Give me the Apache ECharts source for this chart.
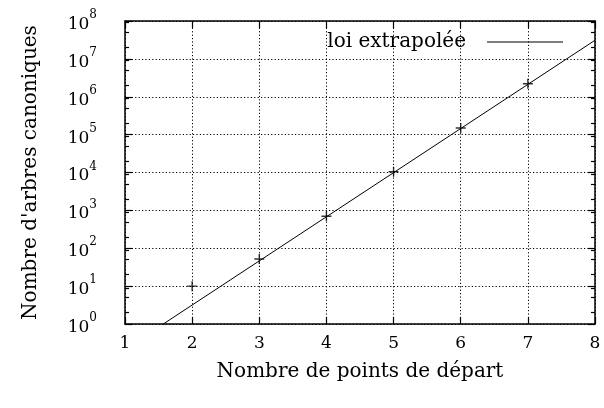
<!DOCTYPE html>
<html>
<head>
<meta charset="utf-8">
<script src="https://cdn.jsdelivr.net/npm/echarts@6/dist/echarts.min.js"></script>
<style>
  html, body { margin: 0; padding: 0; background: #fff; }
  #chart { width: 604px; height: 408px; }
</style>
</head>
<body>
<div id="chart"></div>
<script>
// Nombre de points de départ mesurés
const departs = [2, 3, 4, 5, 6, 7];
// Nombre d'arbres canoniques observés
const arbres = [10, 52, 700, 10500, 150000, 2200000];
// Loi extrapolée (droite en échelle log) : extrémités visibles
const loiX = [1.57, 8];
const loiY = [1, 31000000];
// Graduations
const xTicks = [1, 2, 3, 4, 5, 6, 7, 8];
const yMajor = [1, 10, 100, 1000, 10000, 100000, 1000000, 10000000, 100000000];
const yMinorFactors = [2, 5, 9];

const yMinor = [];
yMajor.slice(0, -1).forEach(d => yMinorFactors.forEach(f => yMinor.push(d * f)));

const FONT = 'DejaVu Serif';
const black = '#000';

const plus = 'path://M4.3,0h1.4v4.3h4.3v1.4h-4.3v4.3h-1.4v-4.3h-4.3v-1.4h4.3z';

const baseY = {
  type: 'log', logBase: 10, min: yMajor[0], max: yMajor[yMajor.length - 1],
  splitLine: { show: false }, axisLabel: { show: false },
  axisLine: { show: false }
};

const chart = echarts.init(document.getElementById('chart'), null, { renderer: 'canvas' });
chart.setOption({
  animation: false,
  backgroundColor: '#fff',
  textStyle: { fontFamily: FONT, color: black },
  grid: { left: 125, right: 9, top: 21, bottom: 84, containLabel: false },
  legend: {
    data: ['loi extrapolée'],
    right: 41, top: 32, padding: 0,
    align: 'right',
    icon: 'rect', itemWidth: 76, itemHeight: 1, itemGap: 0,
    textStyle: { fontFamily: FONT, fontSize: 20, color: black, padding: [0, 16, 0, 0] },
    selectedMode: false
  },
  xAxis: [
    {
      type: 'value', min: xTicks[0], max: xTicks[xTicks.length - 1], interval: 1,
      name: 'Nombre de points de départ', nameLocation: 'middle', nameGap: 38,
      nameTextStyle: { fontFamily: FONT, fontSize: 20, color: black },
      axisLine: { onZero: false, lineStyle: { color: black, width: 1.5 } },
      axisTick: { inside: true, length: 7, lineStyle: { color: black, width: 1.2 } },
      axisLabel: { margin: 11, fontFamily: FONT, fontSize: 17, color: black },
      splitLine: { show: true, lineStyle: { color: black, type: [1.2, 2.2], width: 1 } }
    },
    {
      type: 'value', position: 'top', min: xTicks[0], max: xTicks[xTicks.length - 1], interval: 1,
      axisLine: { onZero: false, lineStyle: { color: black, width: 1.5 } },
      axisTick: { inside: true, length: 7, lineStyle: { color: black, width: 1.2 } },
      axisLabel: { show: false }, splitLine: { show: false }
    }
  ],
  yAxis: [
    {
      type: 'log', logBase: 10, min: yMajor[0], max: yMajor[yMajor.length - 1],
      name: "Nombre d'arbres canoniques", nameLocation: 'middle', nameGap: 84, nameRotate: 90,
      nameTextStyle: { fontFamily: FONT, fontSize: 20, color: black },
      axisLine: { onZero: false, lineStyle: { color: black, width: 1.5 } },
      axisTick: { inside: true, length: 7, lineStyle: { color: black, width: 1.2 } },
      axisLabel: {
        margin: 28,
        formatter: v => '{b|10}{s|' + Math.round(Math.log10(v)) + '}',
        rich: {
          b: { fontFamily: FONT, fontSize: 17, color: black, lineHeight: 24, verticalAlign: 'bottom' },
          s: { fontFamily: FONT, fontSize: 12, color: black, lineHeight: 14, verticalAlign: 'top' }
        }
      },
      splitLine: { show: true, lineStyle: { color: black, type: [1.2, 2.2], width: 1 } }
    },
    Object.assign({}, baseY, {
      position: 'left',
      axisTick: { inside: true, length: 4, customValues: yMinor, lineStyle: { color: black, width: 1.2 } }
    }),
    Object.assign({}, baseY, {
      position: 'right',
      axisLine: { show: true, onZero: false, lineStyle: { color: black, width: 1.5 } },
      axisTick: { inside: true, length: 7, customValues: yMajor, lineStyle: { color: black, width: 1.2 } }
    }),
    Object.assign({}, baseY, {
      position: 'right',
      axisTick: { inside: true, length: 4, customValues: yMinor, lineStyle: { color: black, width: 1.2 } }
    })
  ],
  series: [
    {
      name: 'loi extrapolée', type: 'line',
      data: loiX.map((x, i) => [x, loiY[i]]),
      showSymbol: false, symbol: 'none',
      lineStyle: { color: black, width: 1 },
      itemStyle: { color: black },
      z: 3
    },
    {
      name: 'mesures', type: 'scatter',
      data: departs.map((x, i) => [x, arbres[i]]),
      symbol: plus, symbolSize: 10,
      itemStyle: { color: black },
      z: 4
    }
  ]
});
</script>
</body>
</html>
